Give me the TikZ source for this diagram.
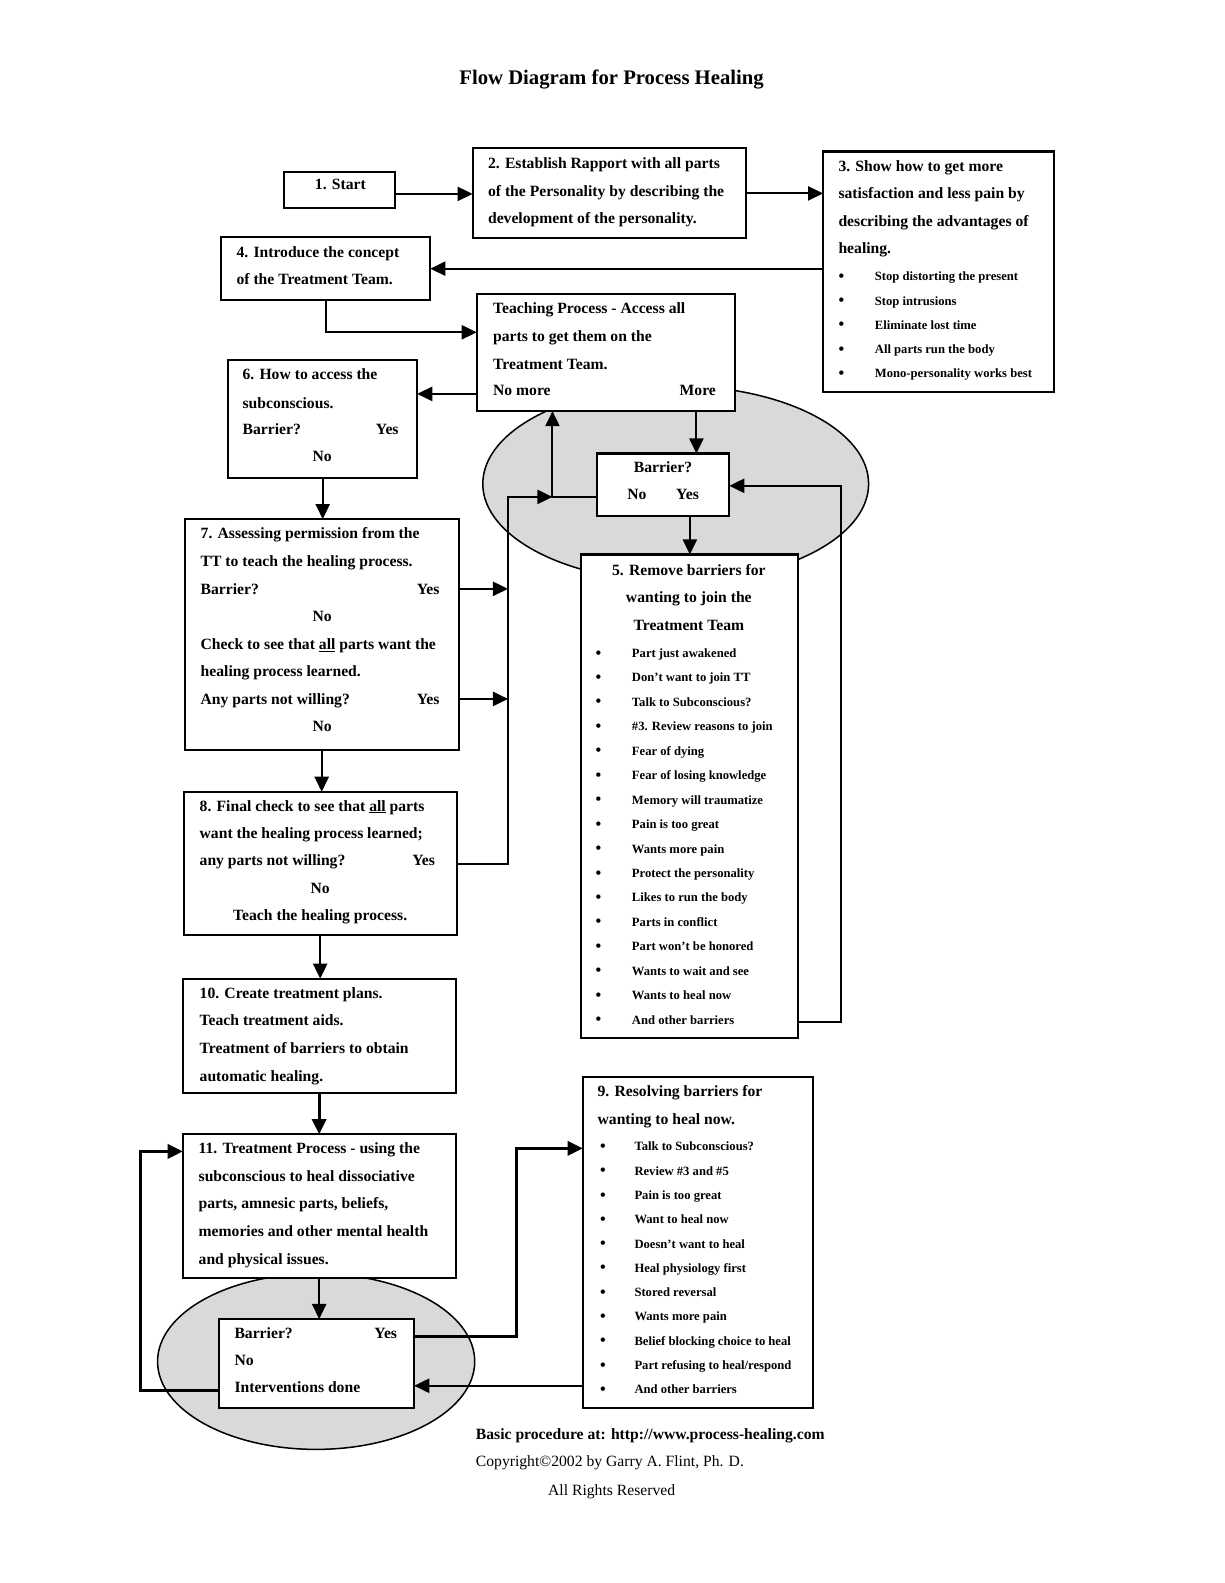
\documentclass[tikz,border=0pt]{standalone}
\usepackage{fontspec}
\setmainfont{Liberation Serif}
\usetikzlibrary{arrows.meta,shapes.geometric,calc}
\newcounter{tnum}
\newcommand\tx[4][txt]{\stepcounter{tnum}\node[#1] (t\arabic{tnum}) at (#2,#3+5) {#4};}
\newcommand\bitem[4]{\tx[bulc]{#1}{#3}{\textbullet}\tx[btxt]{#2}{#3}{#4}}
\newcommand\mkbox[5]{\node[box,minimum width={#4-#2},minimum height={#5-#3}] (#1) at ({(#2+#4)/2},{(#3+#5)/2}) {};}
\begin{document}
\begin{tikzpicture}[x=1pt,y=-1pt,
  box/.style={draw,line width=2pt,fill=white,inner sep=0pt,outer sep=0pt},
  oval/.style={ellipse,draw,line width=1.5pt,fill=black!15,inner sep=0pt},
  arr/.style={line width=2pt,-{Triangle[length=15pt,width=14pt]}},
  arrh/.style={line width=3pt,-{Triangle[length=15pt,width=14pt]}},
  ln/.style={line width=2pt},
  txt/.style={anchor=base west,inner sep=0pt,font=\fontsize{15.5}{18}\selectfont\bfseries},
  txtc/.style={txt,anchor=base},
  txte/.style={txt,anchor=base east},
  btxt/.style={anchor=base west,inner sep=0pt,yshift=1pt,font=\fontsize{12.5}{14}\selectfont\bfseries},
  bulc/.style={anchor=base,inner sep=0pt,yshift=0.5pt,font=\fontsize{16}{18}\selectfont\bfseries},
  ttl/.style={anchor=base,inner sep=0pt,font=\fontsize{20.5}{24}\selectfont\bfseries},
  foot/.style={anchor=base west,inner sep=0pt,font=\fontsize{15.5}{18}\selectfont},
  footc/.style={foot,anchor=base}
]
\path[use as bounding box,fill=white] (0,0) rectangle (1212,1567.3);

% ovals
\node[oval,minimum width=382,minimum height=194] (e1) at (669,479) {};
\node[oval,minimum width=314,minimum height=174] (e2) at (313,1348) {};

% boxes
\mkbox{b1}{281}{170}{391}{206}
\mkbox{b2}{468}{147}{739}{236}
\mkbox{b3}{815}{150}{1044}{388}
\mkbox{b4}{219}{235}{426}{297}
\mkbox{tp}{472}{291}{728}{407}
\mkbox{b6}{226}{356}{413}{473}
\mkbox{bar1}{591}{449}{722}{511}
\mkbox{b5}{575}{549}{790}{1028}
\mkbox{b7}{183}{514}{454}{743}
\mkbox{b8}{182}{784}{452}{926}
\mkbox{b10}{181}{969}{451}{1082}
\mkbox{b11}{181}{1123}{451}{1265}
\mkbox{bar2}{217}{1306}{410}{1394}
\mkbox{b9}{577}{1066}{805}{1394}

\coordinate (vtop) at (503,492);

% connectors
\draw[arr] ($(b1.east)+(0,4)$) -- ($(b1.east -| b2.west)+(0,4)$);
\draw[arr] (b2.east) -- (b2.east -| b3.west);
\draw[arr] (b3.west |- b4.east) -- (b4.east);
\draw[arr] (b4.south) |- ($(tp.west)+(0,-20)$);
\draw[arr] ($(tp.west)+(0,41)$) -- ($(b6.east)+(0,-24.5)$);
\draw[arr] ($(tp.south)+(89.5,0)$) -- ($(bar1.north)+(33,0)$);
\draw[arr] ($(bar1.south)+(26.5,0)$) -- ($(b5.north)+(0.5,0)$);
\draw[arr] ($(b5.east)+(0,223.5)$) -- ++(43,0) |- ($(bar1.east)+(0,1)$);
\draw[arr] ($(bar1.west)+(0,12)$) -| ($(tp.south)+(-53,0)$);
\draw[arr] ($(b7.east)+(0,-45.5)$) -- ($(b7.east -| vtop)+(0,-45.5)$);
\draw[arr] ($(b7.east)+(0,63.5)$) -- ($(b7.east -| vtop)+(0,63.5)$);
\draw[arr] (b8.east) -| (vtop) -- ($(bar1.west)+(-44,12)$);
\draw[arr] (b6.south) -- (b6.south |- b7.north);
\draw[arr] (b7.south) -- (b7.south |- b8.north);
\draw[arr] (b8.south) -- (b8.south |- b10.north);
\draw[arrh] (b10.south) -- (b10.south |- b11.north);
\draw[arr] (b11.south) -- (b11.south |- bar2.north);
\draw[arrh] ($(bar2.east)+(0,-27)$) -- ++(101,0) |- ($(b9.west)+(0,-93)$);
\draw[arr] ($(b9.west)+(0,142)$) -- ($(bar2.east)+(0,22)$);
\draw[arrh] ($(bar2.west)+(0,27)$) -- ++(-78,0) |- ($(b11.west)+(0,-54)$);

% title
\tx[ttl]{605.5}{79}{Flow Diagram for Process Healing}

% box 1
\tx[txtc]{337}{183}{1. Start}
% box 2
\tx{483}{161.7}{2. Establish Rapport with all parts}
\tx{483}{189.8}{of the Personality by describing the}
\tx{483}{216.2}{development of the personality.}
% box 3
\tx{830}{165}{3. Show how to get more}
\tx{830}{192}{satisfaction and less pain by}
\tx{830}{219.5}{describing the advantages of}
\tx{830}{246}{healing.}
\foreach \t [count=\i from 0] in {Stop distorting the present,Stop intrusions,Eliminate lost time,All parts run the body,Mono-personality works best}
  {\bitem{833}{866}{274+24*\i}{\t}}
% box 4
\tx{234}{250}{4. Introduce the concept}
\tx{234}{277}{of the Treatment Team.}
% teaching process
\tx{488}{305}{Teaching Process - Access all}
\tx{488}{333}{parts to get them on the}
\tx{488}{360.5}{Treatment Team.}
\tx{488}{387}{No more}
\tx[txte]{709}{387}{More}
% box 6
\tx{240}{370.5}{6. How to access the}
\tx{240}{399}{subconscious.}
\tx{240}{425.5}{Barrier?}
\tx{372}{425.5}{Yes}
\tx[txtc]{319}{452}{No}
% barrier 1
\tx[txtc]{656.5}{462.5}{Barrier?}
\tx[txtc]{630.5}{490}{No}
\tx[txtc]{680.7}{490}{Yes}
% box 5
\tx[txtc]{682}{564.4}{5. Remove barriers for}
\tx[txtc]{682}{591.4}{wanting to join the}
\tx[txtc]{682}{618.8}{Treatment Team}
\foreach \t [count=\i from 0] in {Part just awakened,Don’t want to join TT,Talk to Subconscious?,\#3. Review reasons to join,Fear of dying,Fear of losing knowledge,Memory will traumatize,Pain is too great,Wants more pain,Protect the personality,Likes to run the body,Parts in conflict,Part won’t be honored,Wants to wait and see,Wants to heal now,And other barriers}
  {\bitem{592.5}{625.5}{647+24.2*\i}{\t}}
% box 7
\tx{198.5}{528}{7. Assessing permission from the}
\tx{198.5}{556}{TT to teach the healing process.}
\tx{198.5}{583.5}{Barrier?}
\tx{412.5}{583.5}{Yes}
\tx[txtc]{319}{610}{No}
\tx{198.5}{638}{Check to see that \underline{all} parts want the}
\tx{198.5}{665}{healing process learned.}
\tx{198.5}{692.4}{Any parts not willing?}
\tx{412.5}{692.4}{Yes}
\tx[txtc]{319}{719.5}{No}
% box 8
\tx{197.5}{798}{8. Final check to see that \underline{all} parts}
\tx{197.5}{825}{want the healing process learned;}
\tx{197.5}{852}{any parts not willing?}
\tx{408}{852}{Yes}
\tx[txtc]{317}{879.5}{No}
\tx[txtc]{317}{906.6}{Teach the healing process.}
% box 10
\tx{197.5}{984}{10. Create treatment plans.}
\tx{197.5}{1010.6}{Teach treatment aids.}
\tx{197.5}{1038}{Treatment of barriers to obtain}
\tx{197.5}{1065.3}{automatic healing.}
% box 11
\tx{196.5}{1137}{11. Treatment Process - using the}
\tx{196.5}{1165}{subconscious to heal dissociative}
\tx{196.5}{1191.4}{parts, amnesic parts, beliefs,}
\tx{196.5}{1218.8}{memories and other mental health}
\tx{196.5}{1246.8}{and physical issues.}
% barrier 2
\tx{232}{1320}{Barrier?}
\tx{370.5}{1320}{Yes}
\tx{232}{1346.5}{No}
\tx{232}{1374}{Interventions done}
% box 9
\tx{591.5}{1081}{9. Resolving barriers for}
\tx{591.5}{1108}{wanting to heal now.}
\foreach \t [count=\i from 0] in {Talk to Subconscious?,Review \#3 and \#5,Pain is too great,Want to heal now,Doesn’t want to heal,Heal physiology first,Stored reversal,Wants more pain,Belief blocking choice to heal,Part refusing to heal/respond,And other barriers}
  {\bitem{597}{628}{1135.5+24.05*\i}{\t}}
% footer
\tx{471}{1420}{Basic procedure at: http://www.process-healing.com}
\tx[foot]{471}{1447}{Copyright©2002 by Garry A. Flint, Ph. D.}
\tx[footc]{605.6}{1476}{All Rights Reserved}
\end{tikzpicture}
\end{document}
